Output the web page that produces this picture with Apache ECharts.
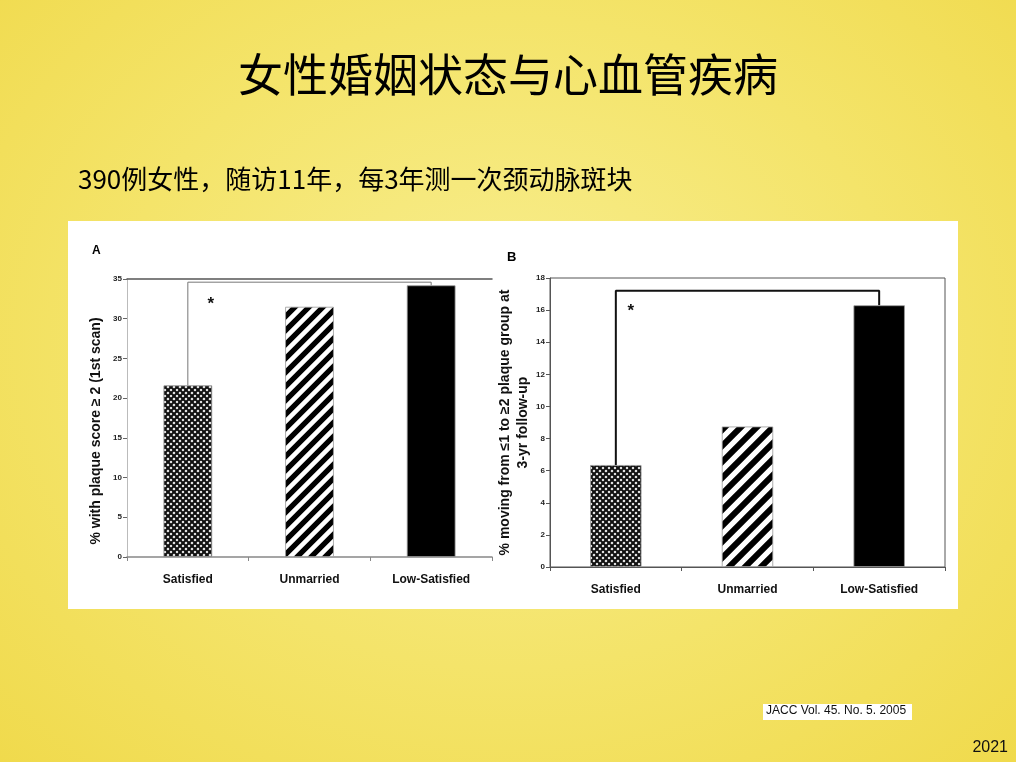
<!DOCTYPE html>
<html>
<head>
<meta charset="utf-8">
<script src="https://cdn.jsdelivr.net/npm/echarts@6/dist/echarts.min.js"></script>
<style>
  html, body { margin: 0; padding: 0; }
  body {
    width: 1016px; height: 762px; overflow: hidden;
    background: radial-gradient(ellipse at 50% 45%, #f8ee90 0%, #f4e46a 55%, #f0da4c 100%);
  }
  #chart { width: 1016px; height: 762px; }
</style>
</head>
<body>
<div id="chart"></div>
<script>
  var categories = ['Satisfied', 'Unmarried', 'Low-Satisfied'];
  var valuesA = [21.6, 31.5, 34.2];
  var valuesB = [6.35, 8.75, 16.3];
  var bracketA = 34.6;
  var bracketB = 17.2;

  var labelFont = "'Liberation Sans Narrow', 'Liberation Sans', Arial, sans-serif";

  // hatch patterns, drawn on small canvases
  function crossTile(){
    var c = document.createElement('canvas');
    c.width = 6; c.height = 6;
    var g = c.getContext('2d');
    g.fillStyle = '#fff';
    g.fillRect(0, 0, 6, 6);
    g.strokeStyle = '#111';
    g.lineWidth = 2.2;
    g.beginPath();
    g.moveTo(-1, -1); g.lineTo(7, 7);
    g.moveTo(-1, 7); g.lineTo(7, -1);
    g.stroke();
    return c;
  }

  function stripeTile(size){
    var c = document.createElement('canvas');
    c.width = size; c.height = size;
    var g = c.getContext('2d');
    g.fillStyle = '#fff';
    g.fillRect(0, 0, size, size);
    g.strokeStyle = '#000';
    g.lineWidth = size * 0.38;
    g.beginPath();
    g.moveTo(-size, size); g.lineTo(size, -size);
    g.moveTo(0, size * 2); g.lineTo(size * 2, 0);
    g.moveTo(-size, size * 2); g.lineTo(size * 2, -size);
    g.stroke();
    return c;
  }

  function barColors(stripeSize){
    return [
      { image: crossTile(), repeat: 'repeat' },
      { image: stripeTile(stripeSize), repeat: 'repeat' },
      '#000'
    ];
  }

  function barData(values, stripeSize){
    var colors = barColors(stripeSize);
    return values.map(function(v, i){
      return { value: v, itemStyle: { color: colors[i] } };
    });
  }

  function star(offset){
    return {
      show: true, formatter: '*', position: 'inside', offset: offset,
      fontSize: 17, fontWeight: 'bold', color: '#111'
    };
  }

  var chart = echarts.init(document.getElementById('chart'));

  var catAxisLabel = {
    fontFamily: labelFont, fontWeight: 'bold', fontSize: 12, color: '#111'
  };
  var valAxisLabel = {
    fontFamily: labelFont, fontWeight: 'bold', fontSize: 8, color: '#222', margin: 5
  };

  var option = {
    animation: false,
    textStyle: { fontFamily: labelFont },
    graphic: [
      { type: 'rect', shape: { x: 68, y: 221, width: 890, height: 388 }, style: { fill: '#fff' }, z: -10 },
      { type: 'text', left: 'center', top: 52, style: { text: '女性婚姻状态与心血管疾病', font: "normal 45px 'Noto Sans CJK SC'", fill: '#000' } },
      { type: 'text', left: 78, top: 166, style: { text: '390例女性，随访11年，每3年测一次颈动脉斑块', font: "normal 26px 'Noto Sans CJK SC'", fill: '#000' } },
      { type: 'text', left: 92, top: 245, style: { text: 'A', font: "bold 12px " + labelFont, fill: '#000' } },
      { type: 'text', left: 507, top: 251, style: { text: 'B', font: "bold 13px " + labelFont, fill: '#000' } },
      { type: 'rect', shape: { x: 763, y: 704, width: 149, height: 16 }, style: { fill: '#fff' } },
      { type: 'text', left: 766, top: 705, style: { text: 'JACC Vol. 45. No. 5. 2005', font: "normal 12px " + labelFont, fill: '#111' } },
      { type: 'text', right: 8, top: 740, style: { text: '2021', font: "normal 16px 'Liberation Sans', Arial", fill: '#111' } }
    ],
    grid: [
      { left: 127, top: 279, width: 365, height: 278 },
      { left: 550, top: 278, width: 395, height: 289, show: true, borderColor: '#555', borderWidth: 1, backgroundColor: 'transparent' }
    ],
    xAxis: [
      {
        type: 'category', gridIndex: 0, data: categories,
        axisLine: { lineStyle: { color: '#888', width: 1.5 } },
        axisTick: { show: true, length: 4, lineStyle: { color: '#888' } },
        axisLabel: Object.assign({ margin: 17 }, catAxisLabel)
      },
      {
        type: 'category', gridIndex: 0, position: 'top', data: categories,
        axisLine: { lineStyle: { color: '#555', width: 1.5 } },
        axisTick: { show: false }, axisLabel: { show: false }
      },
      {
        type: 'category', gridIndex: 1, data: categories,
        axisLine: { lineStyle: { color: '#555', width: 1 } },
        axisTick: { show: true, length: 4, lineStyle: { color: '#555' } },
        axisLabel: Object.assign({ margin: 17 }, catAxisLabel)
      }
    ],
    yAxis: [
      {
        type: 'value', gridIndex: 0, min: 0, max: 35, interval: 5,
        name: '% with plaque score ≥ 2 (1st scan)',
        nameLocation: 'middle', nameGap: 24, nameRotate: 90,
        nameTextStyle: { fontFamily: labelFont, fontWeight: 'bold', fontSize: 14, color: '#111', padding: [0, 26, 0, 0] },
        axisLine: { show: true, lineStyle: { color: '#bbb' } },
        axisTick: { show: true, length: 4, lineStyle: { color: '#666' } },
        axisLabel: valAxisLabel,
        splitLine: { show: false }
      },
      {
        type: 'value', gridIndex: 1, min: 0, max: 18, interval: 2,
        name: '% moving from ≤1 to ≥2 plaque group at\n3-yr follow-up',
        nameLocation: 'middle', nameGap: 7, nameRotate: 90,
        nameTextStyle: { fontFamily: labelFont, fontWeight: 'bold', fontSize: 14, color: '#111', lineHeight: 18 },
        axisLine: { show: true, lineStyle: { color: '#555' } },
        axisTick: { show: true, length: 4, lineStyle: { color: '#555' } },
        axisLabel: valAxisLabel,
        splitLine: { show: false }
      }
    ],
    series: [
      {
        type: 'bar', xAxisIndex: 0, yAxisIndex: 0, barWidth: '40%',
        itemStyle: { borderColor: '#999', borderWidth: 0.8 },
        data: barData(valuesA, 14)
      },
      {
        type: 'line', xAxisIndex: 0, yAxisIndex: 0,
        symbol: 'circle', symbolSize: 0, showSymbol: true,
        lineStyle: { color: '#777', width: 1 },
        data: [
          [0, valuesA[0]],
          { value: [0, bracketA], label: star([23, 22]) },
          [2, bracketA],
          [2, valuesA[2]]
        ],
        z: 1
      },
      {
        type: 'bar', xAxisIndex: 2, yAxisIndex: 1, barWidth: '39%',
        itemStyle: { borderColor: '#999', borderWidth: 0.8 },
        data: barData(valuesB, 16)
      },
      {
        type: 'line', xAxisIndex: 2, yAxisIndex: 1,
        symbol: 'circle', symbolSize: 0, showSymbol: true,
        lineStyle: { color: '#111', width: 2 },
        data: [
          [0, valuesB[0]],
          { value: [0, bracketB], label: star([15, 20]) },
          [2, bracketB],
          [2, valuesB[2]]
        ],
        z: 1
      }
    ]
  };

  chart.setOption(option);
</script>
</body>
</html>
